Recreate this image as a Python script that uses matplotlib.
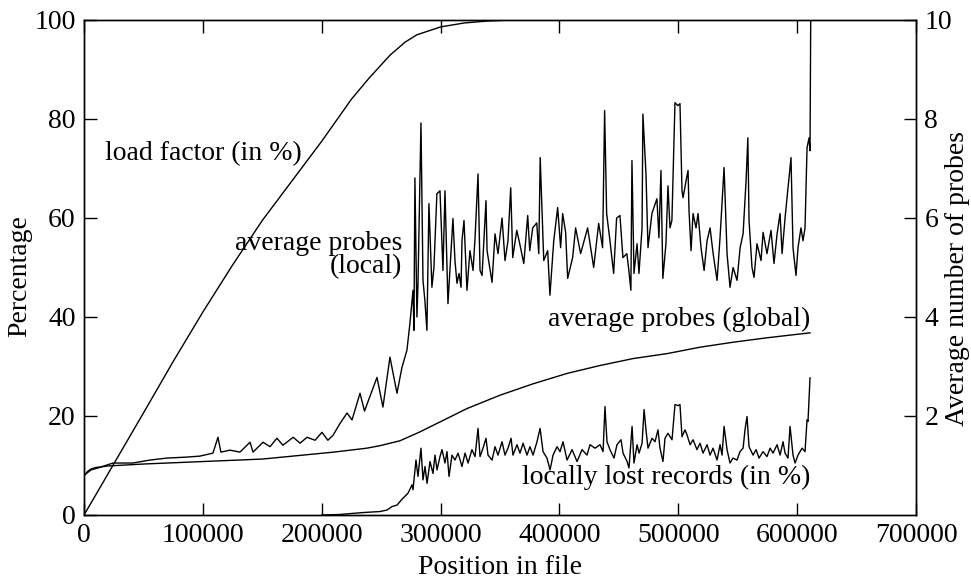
"""Hash-table run: load factor, probes and lost records along the input file."""

import matplotlib

matplotlib.use("Agg")
import matplotlib.pyplot as plt
import numpy as np

# x positions are given in thousands of records
LOAD_X = [0, 10, 25, 50, 75, 100, 125, 150, 175, 200, 225, 240, 257.5, 270,
          280, 300, 320, 340, 360, 400, 612]
LOAD_PCT = [0, 4.1, 10.3, 20.6, 31, 41, 50.5, 59.5, 67.5, 75.5, 84, 88.3, 92.9,
            95.5, 97, 98.6, 99.4, 99.8, 100, 100, 100]

GLOBAL_X = [1, 3, 6, 10, 20, 50, 100, 150, 180, 210, 238, 249, 265.9, 282.7,
            299.5, 322.2, 350, 377.8, 406.4, 434.1, 461.9, 490.5, 518.3, 546,
            574.6, 610.8]
GLOBAL_PROBES = [0.82, 0.88, 0.93, 0.96, 0.99, 1.03, 1.08, 1.13, 1.20, 1.27,
                 1.35, 1.40, 1.50, 1.68, 1.88, 2.15, 2.42, 2.65, 2.86, 3.02,
                 3.16, 3.26, 3.39, 3.49, 3.58, 3.68]

LOCAL_X = [
    1, 5.9, 11.8, 19.4, 24.4, 41.2, 55.5, 69.8, 86.7, 97.6,
    108.5, 112.7, 115.2, 122.8, 131.2, 139.7, 142.2, 150.6, 156.5, 162.3,
    167.4, 176.0, 181.8, 187.6, 194.4, 200.2, 205.2, 209.5, 215.4, 221.3,
    225.5, 229.7, 232.2, 236.0, 240.6, 246.5, 251.5, 257.4, 263.3, 267.5,
    271.7, 274.2, 276.8, 277.6, 278.4, 280.1, 281.0, 283.5, 285.2, 286.8,
    288.5, 290.2, 292.7, 294.4, 296.9, 299.5, 302.0, 303.7, 306.2, 310.4,
    312.1, 313.8, 315.5, 317.2, 318.0, 319.7, 322.2, 324.7, 327.3, 329.0,
    331.5, 333.2, 334.9, 338.2, 339.1, 343.3, 345.8, 348.3, 351.7, 354.2,
    356.7, 359.0, 360.7, 364.1, 366.6, 370.0, 373.3, 375.0, 377.5, 380.9,
    382.6, 383.8, 386.8, 390.1, 392.0, 395.2, 398.5, 401.0, 402.7, 405.2,
    406.9, 411.1, 413.6, 417.8, 423.7, 428.8, 433.0, 436.3, 438.0, 439.7,
    442.2, 445.6, 448.1, 450.9, 453.4, 456.7, 458.4, 460.1, 461.0, 462.7,
    465.3, 466.9, 469.5, 470.2, 472.8, 474.5, 477.8, 479.5, 482.0, 483.7,
    485.4, 487.0, 489.6, 491.3, 493.0, 494.6, 497.2, 499.7, 501.4, 503.1,
    504.0, 506.5, 508.2, 509.0, 510.7, 512.4, 514.9, 516.6, 519.1, 521.7,
    524.2, 526.7, 529.3, 532.6, 535.1, 538.5, 541.0, 543.5, 546.1, 549.4,
    552.0, 554.5, 557.0, 558.5, 559.5, 562.0, 563.7, 566.2, 569.6, 571.3,
    574.6, 578.0, 580.5, 583.1, 585.6, 587.3, 589.8, 594.8, 596.5, 599.0,
    600.7, 603.2, 604.9, 606.6, 608.3, 610.0, 610.8, 611.5,
]
LOCAL_PROBES = [
    0.82, 0.91, 0.95, 1.01, 1.05, 1.05, 1.11, 1.15, 1.17, 1.19,
    1.25, 1.57, 1.27, 1.31, 1.27, 1.47, 1.27, 1.47, 1.38, 1.55,
    1.41, 1.57, 1.45, 1.57, 1.51, 1.67, 1.51, 1.61, 1.85, 2.06,
    1.92, 2.26, 2.46, 2.10, 2.40, 2.78, 2.18, 3.19, 2.46, 2.98,
    3.33, 3.87, 4.54, 3.73, 6.81, 4.00, 4.68, 7.92, 4.74, 4.33,
    3.73, 6.29, 4.60, 5.00, 6.49, 6.55, 4.94, 6.55, 4.27, 5.99,
    5.14, 4.68, 4.88, 4.60, 5.54, 5.95, 4.54, 5.34, 4.94, 5.60,
    6.89, 4.94, 4.84, 6.35, 5.34, 4.70, 5.68, 5.28, 6.00, 5.14,
    5.54, 6.61, 5.20, 5.75, 5.48, 5.08, 6.05, 5.34, 5.80, 5.90,
    5.28, 7.22, 5.14, 5.34, 4.44, 5.54, 6.21, 5.40, 6.09, 5.71,
    4.78, 5.20, 5.80, 5.28, 5.80, 5.00, 5.89, 5.40, 8.17, 6.09,
    5.60, 4.88, 6.00, 6.05, 5.20, 5.28, 4.94, 4.54, 7.16, 4.88,
    5.48, 4.88, 5.80, 8.10, 6.89, 5.40, 6.09, 6.21, 6.39, 5.60,
    6.96, 4.78, 5.48, 6.65, 5.80, 5.95, 8.33, 8.27, 8.31, 6.55,
    6.41, 6.75, 6.96, 6.15, 5.34, 6.09, 5.80, 6.09, 5.40, 4.94,
    5.54, 5.80, 5.28, 4.74, 5.60, 7.02, 5.28, 4.60, 5.00, 4.74,
    5.40, 5.68, 6.75, 7.62, 5.95, 5.00, 4.80, 5.48, 5.14, 5.71,
    5.28, 5.75, 5.08, 5.68, 6.09, 5.28, 6.00, 7.22, 5.40, 4.84,
    5.40, 5.80, 5.54, 5.80, 7.42, 7.62, 7.36, 10.5,
]

LOST_X = [
    200, 215, 225, 235, 242, 249.0, 254.9, 259.1, 263.3, 265.9,
    268.4, 272.6, 276.0, 276.8, 279.3, 281.0, 283.5, 285.2, 286.9, 288.6,
    291.1, 293.6, 295.3, 297.0, 299.5, 301.2, 303.7, 305.4, 307.1, 309.6,
    312.1, 314.7, 318.0, 320.6, 323.1, 326.4, 329.0, 331.5, 333.2, 335.7,
    338.2, 339.9, 343.3, 345.8, 348.3, 351.7, 354.2, 356.7, 359.3, 360.9,
    364.3, 366.8, 369.4, 372.7, 375.2, 377.8, 381.1, 383.7, 386.2, 389.5,
    392.1, 394.6, 398.0, 400.5, 403.0, 406.4, 410.6, 414.8, 419.0, 423.2,
    425.7, 429.9, 434.1, 436.7, 438.3, 440.0, 442.5, 445.9, 448.4, 451.8,
    453.5, 456.9, 458.5, 461.1, 462.7, 465.3, 467.0, 469.5, 471.2, 472.8,
    474.5, 477.9, 480.4, 482.9, 484.6, 487.1, 488.8, 491.3, 494.7, 497.2,
    499.8, 501.4, 503.1, 505.6, 507.3, 509.9, 512.4, 515.7, 518.3, 520.8,
    524.2, 526.7, 529.2, 532.6, 535.1, 536.8, 538.5, 541.0, 543.5, 546.0,
    549.4, 551.9, 554.5, 556.1, 557.8, 559.5, 562.9, 565.4, 567.9, 571.3,
    574.6, 577.2, 579.7, 583.1, 585.6, 588.1, 589.8, 592.3, 594.0, 596.5,
    598.2, 600.7, 604.1, 606.6, 608.3, 609.1, 610.8,
]
LOST_PCT = [
    0, 0.1, 0.3, 0.5, 0.6, 0.7, 1.0, 1.7, 2.0, 2.7,
    3.4, 4.4, 6.1, 5.1, 11.1, 7.8, 13.5, 7.1, 9.8, 6.4,
    10.8, 8.4, 12.1, 9.1, 11.8, 13.2, 10.5, 12.8, 7.8, 12.1,
    11.1, 12.5, 9.8, 12.5, 10.5, 13.2, 11.8, 17.5, 11.8, 13.5,
    15.5, 12.1, 11.1, 13.8, 12.1, 14.8, 12.1, 13.5, 15.5, 12.1,
    14.2, 12.5, 14.5, 12.1, 13.8, 12.1, 14.8, 17.5, 12.8, 11.5,
    9.1, 12.1, 13.8, 12.8, 14.8, 11.1, 13.2, 10.8, 13.2, 12.1,
    14.2, 13.5, 14.2, 12.8, 21.9, 14.8, 13.2, 11.5, 14.2, 15.2,
    12.5, 10.8, 9.5, 17.9, 10.5, 14.2, 12.5, 14.5, 21.3, 17.2,
    13.5, 15.5, 14.8, 17.2, 13.5, 10.8, 15.5, 16.5, 15.2, 22.3,
    22.1, 22.3, 15.8, 17.2, 16.2, 14.2, 15.2, 13.2, 14.5, 12.5,
    14.2, 12.1, 13.5, 11.1, 14.2, 12.1, 17.9, 13.2, 10.5, 11.5,
    11.1, 12.8, 13.5, 17.2, 19.9, 13.8, 12.1, 13.2, 11.5, 12.8,
    11.8, 13.5, 12.5, 14.2, 12.1, 14.8, 12.5, 11.5, 17.9, 12.1,
    10.5, 12.1, 13.5, 12.8, 19.2, 18.9, 27.7,
]

X_TICKS = [0, 100000, 200000, 300000, 400000, 500000, 600000, 700000]
Y_TICKS = [0, 20, 40, 60, 80, 100]
Y2_TICKS = [2, 4, 6, 8, 10]

FONT = "Liberation Serif"
FS = 20
plt.rcParams["font.family"] = FONT
plt.rcParams["font.size"] = FS


def kx(vals):
    return np.asarray(vals, dtype=float) * 1000


fig = plt.figure(figsize=(9.71, 5.81), dpi=100)
ax = fig.add_axes([0.0865, 0.1136, 0.8569, 0.852])
ax2 = ax.twinx()

lw = 1.0
ax.plot(kx(LOAD_X), LOAD_PCT, color="black", lw=lw)
ax.plot(kx(LOST_X), LOST_PCT, color="black", lw=lw)
ax2.plot(kx(GLOBAL_X), GLOBAL_PROBES, color="black", lw=lw)
ax2.plot(kx(LOCAL_X), LOCAL_PROBES, color="black", lw=lw)

ax.set_xlim(0, 700000)
ax.set_ylim(0, 100)
ax2.set_ylim(0, 10)
ax.set_xticks(X_TICKS)
ax.set_xticklabels([str(v) for v in X_TICKS])
ax.set_yticks(Y_TICKS)
ax2.set_yticks(Y2_TICKS)
ax2.set_yticklabels([str(v) for v in Y2_TICKS])

for a in (ax, ax2):
    a.tick_params(direction="in", length=9, width=1.0, labelsize=FS, pad=6)
    for s in a.spines.values():
        s.set_linewidth(1.0)
ax.tick_params(axis="x", top=True)
ax2.tick_params(axis="y", right=True, left=False)

# axis titles placed in figure pixels, as in the original layout
W, H = 971, 581
fig.text(500 / W, 1 - 568 / H, "Position in file", ha="center", va="center",
         fontsize=FS)
fig.text(20 / W, 1 - 276 / H, "Percentage", ha="center", va="center",
         rotation=90, fontsize=FS)
fig.text(957 / W, 1 - 278 / H, "Average number of probes", ha="center",
         va="center", rotation=90, fontsize=FS)

ax.text(17700, 73, "load factor (in %)", ha="left", va="center", fontsize=FS)
ax.text(267500, 52.5, "average probes\n(local)", ha="right", va="center",
        multialignment="right", fontsize=FS, linespacing=0.9)
ax.text(610800, 39.5, "average probes (global)", ha="right", va="center",
        fontsize=FS)
ax.text(610800, 7.5, "locally lost records (in %)", ha="right", va="center",
        fontsize=FS)

fig.savefig("out.png", dpi=100)
